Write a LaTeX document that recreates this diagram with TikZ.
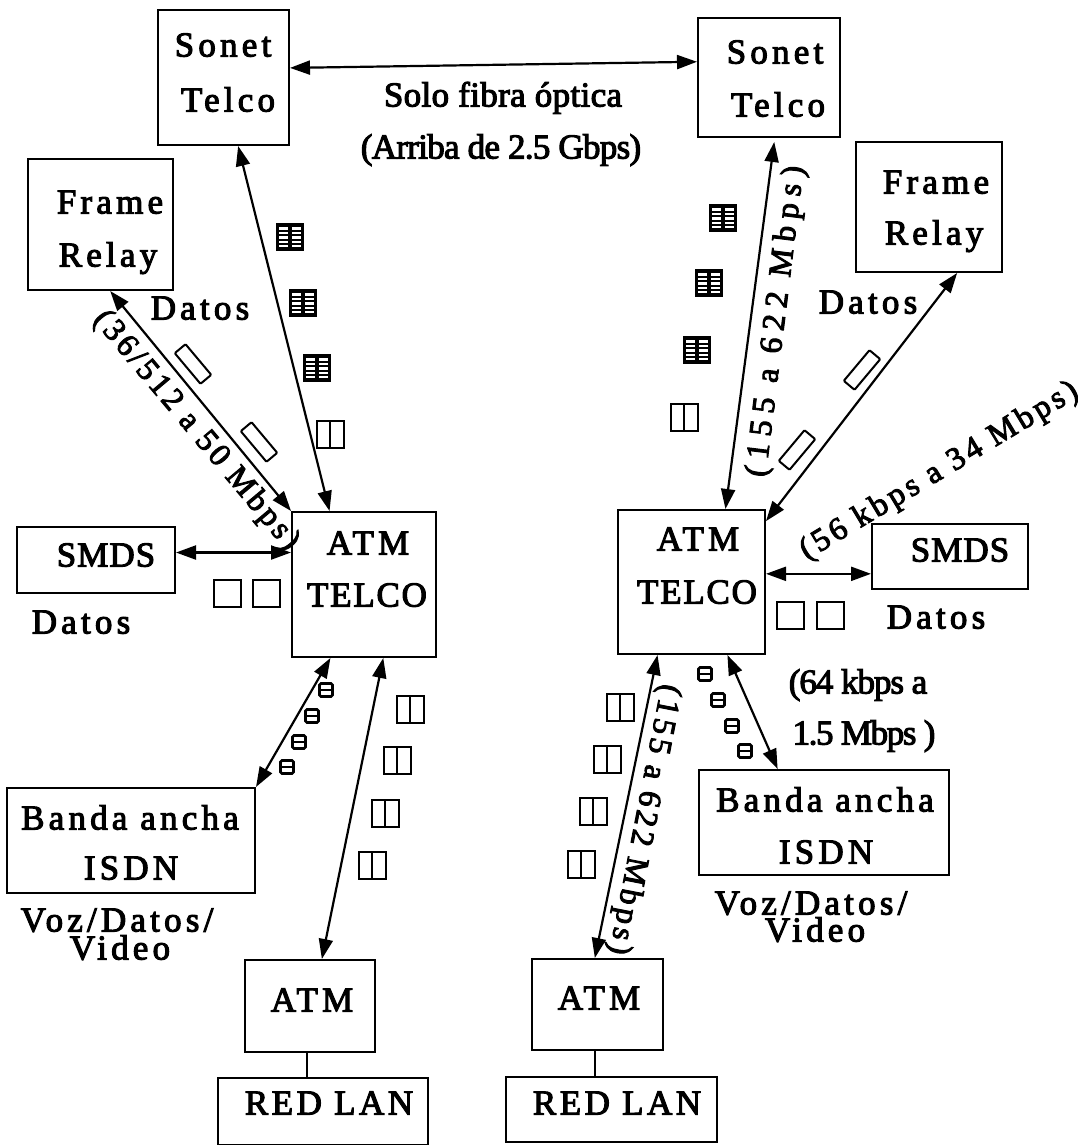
\documentclass[tikz,border=0pt]{standalone}
\usepackage{fontspec}
\usetikzlibrary{arrows.meta,calc}
\setmainfont{Liberation Serif}
\newfontfamily\scanserif[FakeBold=3]{Liberation Serif}
\tikzset{
  x=1pt,y=-1pt,
  boxn/.style={draw=black,line width=2pt,inner sep=0,fill=white},
  lsp/.style={inner sep=0,text height=23pt,text depth=0pt,font=\fontsize{35}{35}\selectfont\scanserif\addfontfeature{LetterSpace=#1}},
  lbl/.style={lsp=12},
  rsp/.style={inner sep=0,text height=21pt,text depth=0pt,font=\fontsize{32}{32}\selectfont\scanserif\addfontfeature{LetterSpace=#1}},
  link/.style={line width=2.2pt,{Triangle[length=20pt,width=14pt]}-{Triangle[length=20pt,width=14pt]}},
  plain/.style={line width=1.8pt},
  pics/griddouble/.style={code={
    \draw[line width=2pt,fill=black] (-13,-13) rectangle (13,13);
    \foreach \yy in {-8.5,-4,0.5,5,9}{\draw[white,line width=2.3pt] (-11,\yy)--(-2,\yy) (2,\yy)--(11,\yy);}
  }},
  pics/twin/.style={code={
    \draw[line width=2pt,fill=white] (-13.5,-13.5) rectangle (13.5,13.5);
    \draw[line width=2pt] (0,-13.5)--(0,13.5);
  }},
  pics/cell/.style={code={
    \draw[line width=2pt,fill=white] (-13.5,-13.5) rectangle (13.5,13.5);
  }},
  pics/tiny/.style={code={
    \draw[line width=2.6pt,rounded corners=1.5pt,fill=white] (-6.5,-6.5) rectangle (6.5,6.5);
    \draw[line width=1.8pt] (-6.5,0)--(6.5,0);
  }},
  pics/slab/.style={code={
    \draw[line width=2pt,fill=white,rounded corners=1pt] (-20,-7) rectangle (20,7);
  }}
}
\begin{document}
\begin{tikzpicture}
\useasboundingbox (0,0) rectangle (1086,1145);
% boxes
\node[boxn,minimum width=131pt,minimum height=135pt] (sonetL) at (223.5,77.5) {};
\node[boxn,minimum width=142pt,minimum height=119pt] (sonetR) at (769,77.5) {};
\node[boxn,minimum width=145pt,minimum height=131pt] (frameL) at (100.5,224.5) {};
\node[boxn,minimum width=146pt,minimum height=130pt] (frameR) at (929,207) {};
\node[boxn,minimum width=144pt,minimum height=145pt] (atmL) at (364,584.5) {};
\node[boxn,minimum width=147pt,minimum height=144pt] (atmR) at (691.5,582) {};
\node[boxn,minimum width=158pt,minimum height=66pt] (smdsL) at (96,560) {};
\node[boxn,minimum width=156pt,minimum height=65pt] (smdsR) at (950,556.5) {};
\node[boxn,minimum width=248pt,minimum height=105pt] (bandaL) at (131,840.5) {};
\node[boxn,minimum width=250pt,minimum height=105pt] (bandaR) at (824,822.5) {};
\node[boxn,minimum width=130pt,minimum height=92pt] (atmbL) at (310,1006) {};
\node[boxn,minimum width=131pt,minimum height=91pt] (atmbR) at (597.5,1004.5) {};
\node[boxn,minimum width=210pt,minimum height=67pt] (lanL) at (323,1111.5) {};
\node[boxn,minimum width=211pt,minimum height=65pt] (lanR) at (611.5,1109.5) {};
% connector ends on box sides
\coordinate (smdsLout) at ($(smdsL.north east)!0.39!(smdsL.south east)$);
\coordinate (atmRout) at ($(atmR.north east)!0.444!(atmR.south east)$);
\coordinate (atmbLfoot) at ($(atmbL.south west)!0.477!(atmbL.south east)$);
\coordinate (atmbRfoot) at ($(atmbR.south west)!0.48!(atmbR.south east)$);
% connectors
\draw[link] ($(sonetL.north east)!0.43!(sonetL.south east)$) -- ($(sonetR.north west)!0.37!(sonetR.south west)$);
\draw[link] ($(sonetL.south west)!0.61!(sonetL.south east)$) -- ($(atmL.north west)!0.264!(atmL.north east)$);
\draw[link] ($(frameL.south west)!0.566!(frameL.south east)$) -- (atmL.north west);
\draw[link] (smdsLout) -- (smdsLout -| atmL.west);
\draw[link] ($(atmL.south west)!0.27!(atmL.south east)$) -- (bandaL.north east);
\draw[link] ($(atmL.south west)!0.632!(atmL.south east)$) -- ($(atmbL.north west)!0.59!(atmbL.north east)$);
\draw[plain] (atmbLfoot) -- (atmbLfoot |- lanL.north);
\draw[link,shorten <=4pt] ($(sonetR.south west)!0.54!(sonetR.south east)$) -- ($(atmR.north west)!0.728!(atmR.north east)$);
\draw[link] ($(frameR.south west)!0.69!(frameR.south east)$) -- ($(atmR.north east)!0.083!(atmR.south east)$);
\draw[link] (atmRout) -- (atmRout -| smdsR.west);
\draw[link] ($(atmR.south west)!0.272!(atmR.south east)$) -- ($(atmbR.north west)!0.48!(atmbR.north east)$);
\draw[link] ($(atmR.south west)!0.741!(atmR.south east)$) -- ($(bandaR.north west)!0.316!(bandaR.north east)$);
\draw[plain] (atmbRfoot) -- (atmbRfoot |- lanR.north);
% packet icons
\foreach \px/\py in {290/237,303/303,317/368,723/218,709/283,697/350}{\pic at (\px,\py) {griddouble};}
\foreach \px/\py in {330/434,684/417,410/709,397/760,385/813,372/865,620/707,607/759,593/811,581/864}{\pic at (\px,\py) {twin};}
\foreach \px/\py in {227/593,266/593,790.5/615,830/615}{\pic at (\px,\py) {cell};}
\foreach \px/\py in {326/690,312/716,299/742,287/767,705/674,718/700,732/726,745/751}{\pic at (\px,\py) {tiny};}
\pic[rotate=-50] at (193,364) {slab};
\pic[rotate=-50] at (259,442) {slab};
\pic[rotate=50] at (862,370) {slab};
\pic[rotate=50] at (797,450) {slab};
% texts
\node[lbl] (t1) at (223,45) {Sonet};
\node[lbl] (t2) at (228,100) {Telco};
\node[lbl] (t3) at (775,52) {Sonet};
\node[lbl] (t4) at (778,105) {Telco};
\node[lbl] (t5) at (110,202) {Frame};
\node[lbl] (t6) at (108,255) {Relay};
\node[lbl] (t7) at (936,182) {Frame};
\node[lbl] (t8) at (934,233) {Relay};
\node[lbl] (t9) at (200,308) {Datos};
\node[lbl] (t10) at (868,302) {Datos};
\node[lbl] (t11) at (81,622) {Datos};
\node[lbl] (t12) at (936,617) {Datos};
\node[lbl] (t13) at (368,543) {ATM};
\node[lsp=5] (t14) at (367,595) {TELCO};
\node[lbl] (t15) at (698,539) {ATM};
\node[lsp=5] (t16) at (697,592) {TELCO};
\node[lsp=3] (t17) at (106,555) {SMDS};
\node[lsp=3] (t18) at (960,550) {SMDS};
\node[lbl] (t19) at (130,818) {Banda ancha};
\node[lbl] (t20) at (131,868) {ISDN};
\node[lbl] (t21) at (825,800) {Banda ancha};
\node[lbl] (t22) at (826,852) {ISDN};
\node[lbl] (t23) at (117,920) {Voz/Datos/};
\node[lbl] (t24) at (120,948) {Video};
\node[lbl] (t25) at (811,903) {Voz/Datos/};
\node[lbl] (t26) at (815,930) {Video};
\node[lbl] (t27) at (312,1000) {ATM};
\node[lbl] (t28) at (599,998) {ATM};
\node[lsp=10] (t29) at (329,1103) {RED LAN};
\node[lsp=10] (t30) at (617,1103) {RED LAN};
\node[lsp=1] (t31) at (503,95) {Solo fibra óptica};
\node[lsp=-2] (t32) at (501,147) {(Arriba de 2.5 Gbps)};
\node[lsp=-3] (t33) at (858,682) {(64 kbps a};
\node[lsp=-4] (t34) at (864,733) {1.5 Mbps )};
\node[rsp=11,rotate=-50] (t35) at (198,429) {(36/512 a 50 Mbps)};
\node[rsp=22,rotate=83] (t36) at (774,321) {(155 a 622 Mbps)};
\node[rsp=12,rotate=31] (t37) at (938,469) {(56 kbps a 34 Mbps)};
\node[rsp=12,rotate=-101] (t38) at (646,820) {(155 a 622 Mbps)};
\end{tikzpicture}
\end{document}
